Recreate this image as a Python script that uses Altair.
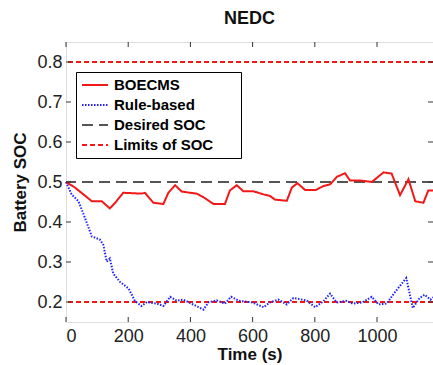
import altair as alt
import pandas as pd

# ---- data ----
t_boecms = [0, 29, 83, 115, 141, 158, 184, 243, 254, 281, 313, 329, 351, 372, 420, 442, 474, 511,
            527, 549, 570, 602, 635, 656, 672, 710, 726, 744, 769, 803, 828, 849, 871, 897, 913,
            945, 983, 1021, 1047, 1074, 1101, 1123, 1149, 1165, 1180]
soc_boecms = [0.500, 0.486, 0.452, 0.452, 0.434, 0.448, 0.473, 0.471, 0.473, 0.448, 0.445, 0.473,
              0.492, 0.476, 0.471, 0.462, 0.445, 0.445, 0.479, 0.492, 0.477, 0.477, 0.469, 0.465,
              0.456, 0.453, 0.486, 0.497, 0.480, 0.480, 0.490, 0.494, 0.513, 0.522, 0.504, 0.504,
              0.500, 0.524, 0.521, 0.467, 0.507, 0.452, 0.448, 0.479, 0.479]

t_rule = [0, 18, 40, 61, 83, 109, 120, 131, 141, 152, 174, 201, 222, 243, 260, 292, 313, 335, 356,
          377, 403, 442, 458, 485, 511, 531, 557, 599, 635, 656, 683, 710, 731, 773, 801, 828, 849,
          870, 901, 922, 953, 983, 1005, 1031, 1058, 1094, 1115, 1137, 1153, 1172, 1180]
soc_rule = [0.500, 0.469, 0.452, 0.410, 0.364, 0.356, 0.343, 0.301, 0.309, 0.271, 0.250, 0.234,
            0.202, 0.190, 0.200, 0.196, 0.190, 0.213, 0.203, 0.206, 0.196, 0.181, 0.199, 0.204,
            0.196, 0.213, 0.203, 0.199, 0.187, 0.199, 0.206, 0.194, 0.210, 0.204, 0.187, 0.202,
            0.221, 0.199, 0.203, 0.196, 0.199, 0.213, 0.194, 0.196, 0.225, 0.260, 0.185, 0.210,
            0.218, 0.206, 0.212]

ref_names = ["Desired SOC", "Limits of SOC", "Limits of SOC"]
ref_values = [0.5, 0.8, 0.2]

x_ticks = [0, 200, 400, 600, 800, 1000]
y_ticks = [0.2, 0.3, 0.4, 0.5, 0.6, 0.7, 0.8]

series_order = ["BOECMS", "Rule-based", "Desired SOC", "Limits of SOC"]
series_colors = ["#f21818", "#2020ff", "#555555", "#f21818"]
series_dash = [[1, 0], [1.5, 1.5], [11, 6], [5, 3]]
series_width = [2, 2, 1.3, 1.5]

W, H = 367, 280

lines_df = pd.concat([
    pd.DataFrame({"t": t_boecms, "soc": soc_boecms, "series": "BOECMS"}),
    pd.DataFrame({"t": t_rule, "soc": soc_rule, "series": "Rule-based"}),
])
ref_df = pd.DataFrame({"series": ref_names, "soc": ref_values})
xt_df = pd.DataFrame({"t": x_ticks})
yt_df = pd.DataFrame({"soc": y_ticks})

xscale = alt.Scale(domain=[0, 1180], nice=False, zero=False)
yscale = alt.Scale(domain=[0.15, 0.85], nice=False, zero=False)

pad = "\u2003\u2002\u200b"
color = alt.Color("series:N", scale=alt.Scale(domain=series_order, range=series_colors),
                  legend=alt.Legend(title=None, orient="none", legendX=10, legendY=30,
                                    symbolType="M-1,0H2.714", symbolSize=196,
                                    symbolStrokeWidth=1.8,
                                    labelFont="Liberation Sans", labelFontSize=15,
                                    labelFontWeight="bold", labelColor="#000000",
                                    labelOffset=17, rowPadding=4, padding=5,
                                    strokeColor="#000000", fillColor="#ffffff",
                                    labelExpr="datum.label + '" + pad + "'"))
dash = alt.StrokeDash("series:N", scale=alt.Scale(domain=series_order, range=series_dash),
                      legend=None)
swidth = alt.StrokeWidth("series:N", scale=alt.Scale(domain=series_order, range=series_width),
                         legend=None)

x_axis = alt.Axis(values=x_ticks, ticks=False, domain=False, grid=False, labelFontSize=18,
                  labelFont="Liberation Sans", labelColor="#222222", labelPadding=5,
                  format="d",
                  title="Time (s)", titleFontSize=17, titleFont="Liberation Sans",
                  titleFontWeight="bold", titleColor="#111111", titlePadding=1)
y_axis = alt.Axis(values=y_ticks, ticks=False, domain=False, grid=False, labelFontSize=18,
                  labelFont="Liberation Sans", labelColor="#222222", labelPadding=4,
                  format=".1f", title="Battery SOC", titleFontSize=17,
                  titleFont="Liberation Sans", titleFontWeight="bold",
                  titleColor="#111111", titlePadding=7)

refs = alt.Chart(ref_df).mark_rule().encode(
    y=alt.Y("soc:Q", scale=yscale, axis=y_axis),
    color=color, strokeDash=dash, strokeWidth=swidth)

lines = alt.Chart(lines_df).mark_line(interpolate="linear").encode(
    x=alt.X("t:Q", scale=xscale, axis=x_axis),
    y=alt.Y("soc:Q", scale=yscale),
    color=color, strokeDash=dash, strokeWidth=swidth,
    detail="series:N")

tk = dict(color="#333333", strokeWidth=1)
bottom_ticks = alt.Chart(xt_df).mark_rule(**tk).encode(
    x=alt.X("t:Q", scale=xscale), y=alt.value(H), y2=alt.value(H - 5))
top_ticks = alt.Chart(xt_df).mark_rule(**tk).encode(
    x=alt.X("t:Q", scale=xscale), y=alt.value(0), y2=alt.value(5))
left_ticks = alt.Chart(yt_df).mark_rule(**tk).encode(
    y=alt.Y("soc:Q", scale=yscale), x=alt.value(0), x2=alt.value(5))
right_ticks = alt.Chart(yt_df).mark_rule(**tk).encode(
    y=alt.Y("soc:Q", scale=yscale), x=alt.value(W), x2=alt.value(W - 5))

chart = alt.layer(refs, lines, bottom_ticks, top_ticks, left_ticks, right_ticks).properties(
    width=W, height=H,
    title=alt.Title("NEDC", fontSize=18, font="Liberation Sans", fontWeight="bold",
                    color="#111111", anchor="middle", offset=14),
    autosize=alt.AutoSizeParams(type="none"),
    padding={"left": 66, "top": 42, "right": 0, "bottom": 43},
).configure_view(stroke="#333333", strokeWidth=1).configure(background="#ffffff")

chart.save("out.html", embed_options={"renderer": "svg", "actions": False})
